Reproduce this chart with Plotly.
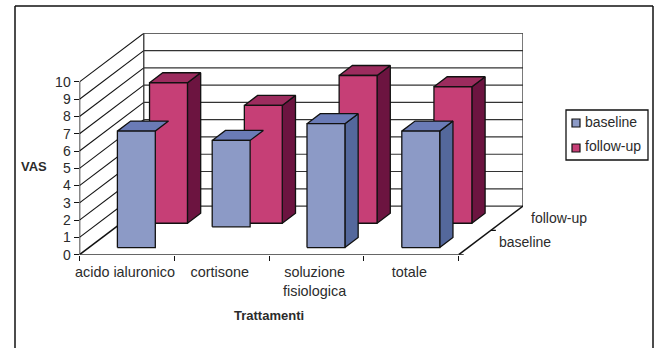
import plotly.graph_objects as go

# Chart data
categories = ["acido ialuronico", "cortisone", "soluzione<br>fisiologica", "totale"]
series_names = ["baseline", "follow-up"]
baseline_top = [6.74, 6.2, 7.17, 6.74]
baseline_bottom = [0, 1.2, 0, 0]
baseline_side_shown = [False, False, True, True]
followup_top = [8.13, 6.82, 8.55, 7.9]
followup_bottom = [0, 0, 0, 0]
value_ticks = list(range(11))

# Colours for the three visible faces of each bar
BLUE = dict(front="#8C9AC6", top="#6A7BB6", side="#54689C")
RED = dict(front="#C63F76", top="#9C2C5E", side="#6C1440")
EDGE = "#111111"
GRID = "#333333"
TEXT = "#2b2b2b"

W, H = 656, 348
FONT = "Liberation Sans, Arial, sans-serif"

# Oblique depth: a point one full depth back moves this far in axis units
DEPTH_X = 0.678
DEPTH_Y = 2.815
X_MAX = 4 + DEPTH_X
Y_MAX = 10 + DEPTH_Y

# Bar footprint within a category and within the depth of its series
BAR_HALF_W = 0.2
BAR_HALF_D = 0.103


def proj(x, y, d):
    return x + d * DEPTH_X, y + d * DEPTH_Y


def face(points, color, name):
    xs, ys = zip(*[proj(*p) for p in points + points[:1]])
    return go.Scatter(x=xs, y=ys, mode="lines", fill="toself", fillcolor=color,
                      line=dict(color=EDGE, width=1.3), hoverinfo="skip",
                      showlegend=False, name=name)


def bar_faces(i, d, low, high, colors):
    x0, x1 = i + 0.5 - BAR_HALF_W, i + 0.5 + BAR_HALF_W
    d0, d1 = d - BAR_HALF_D, d + BAR_HALF_D
    front = face([(x0, low, d0), (x1, low, d0), (x1, high, d0), (x0, high, d0)],
                 colors["front"], "front")
    top = face([(x0, high, d0), (x1, high, d0), (x1, high, d1), (x0, high, d1)],
               colors["top"], "top")
    side = face([(x1, low, d0), (x1, low, d1), (x1, high, d1), (x1, high, d0)],
                colors["side"], "side")
    return front, top, side


def lines(segments, width=1.3, color=GRID):
    xs, ys = [], []
    for a, b in segments:
        for p in (a, b):
            px_, py_ = proj(*p)
            xs.append(px_)
            ys.append(py_)
        xs.append(None)
        ys.append(None)
    return go.Scatter(x=xs, y=ys, mode="lines", line=dict(color=color, width=width),
                      hoverinfo="skip", showlegend=False)


fig = go.Figure()

# Walls: gridlines across the back and along the left side
fig.add_trace(lines([((0, v, 1), (4, v, 1)) for v in value_ticks[1:]], 1.2))
fig.add_trace(lines([((0, v, 0), (0, v, 1)) for v in value_ticks[1:]], 1.1, "#111111"))
fig.add_trace(lines([((0, 0, 1), (0, 10, 1)), ((4, 0, 1), (4, 10, 1)),
                     ((0, 0, 1), (4, 0, 1))], 1.3))
fig.add_trace(lines([((0, 0, 0), (0, 10, 0)), ((0, 0, 0), (0, 0, 1)),
                     ((4, 0, 0), (4, 0, 1))], 1.5, "#111111"))

# Bars, back series first
baseline_faces = [bar_faces(i, 0.25, baseline_bottom[i], baseline_top[i], BLUE) for i in range(4)]
followup_faces = [bar_faces(i, 0.75, followup_bottom[i], followup_top[i], RED) for i in range(4)]
for i in range(4):
    front, top, side = followup_faces[i]
    fig.add_traces([side, top, front])
for i in range(4):
    front, top, side = baseline_faces[i]
    if baseline_side_shown[i]:
        fig.add_trace(side)
    fig.add_traces([top, front])

# Front edge of the floor
fig.add_trace(lines([((0, 0, 0), (4, 0, 0))], 1.5))

SHAPE_LINE = dict(color="#111111", width=1.5)


def px(x):
    return x / W


def py(y):
    return 1 - y / H


shapes = [
    # Outer frame, open at the lower edge of the page
    dict(type="line", xref="paper", yref="paper", x0=px(15), x1=px(15), y0=py(6), y1=py(348), line=SHAPE_LINE),
    dict(type="line", xref="paper", yref="paper", x0=px(15), x1=px(653), y0=py(6), y1=py(6), line=SHAPE_LINE),
    dict(type="line", xref="paper", yref="paper", x0=px(653), x1=px(653), y0=py(6), y1=py(348), line=SHAPE_LINE),
    # Legend box and swatches
    dict(type="rect", xref="paper", yref="paper", x0=px(566), x1=px(648), y0=py(110), y1=py(160),
         line=dict(color="#111111", width=1.3), fillcolor="white"),
    dict(type="rect", xref="paper", yref="paper", x0=px(572), x1=px(580), y0=py(119), y1=py(127),
         line=dict(color="#111111", width=1.2), fillcolor=BLUE["front"]),
    dict(type="rect", xref="paper", yref="paper", x0=px(572), x1=px(580), y0=py(144), y1=py(152),
         line=dict(color="#111111", width=1.2), fillcolor=RED["front"]),
]
# Small ticks pointing right along the depth axis
for d in (0, 0.5, 1):
    sx, sy = proj(4, 0, d)
    shapes.append(dict(type="line", xref="x", yref="y", x0=sx, y0=sy, x1=sx + 5 / 94.8, y1=sy,
                       line=dict(color="#111111", width=1.2)))


def label(text, x, y, size=14, bold=False, anchor="center"):
    return dict(text=f"<b>{text}</b>" if bold else text, x=px(x), y=py(y), xref="paper", yref="paper",
                showarrow=False, xanchor=anchor, yanchor="middle",
                font=dict(family=FONT, size=size, color=TEXT))


annotations = [
    label("VAS", 34, 167, 13, True),
    label("Trattamenti", 269, 315, 13, True),
    label(series_names[0], 583, 122, anchor="left"),
    label(series_names[1], 583, 146, anchor="left"),
    # Series names beside the depth axis
    label(series_names[0], 497, 242, anchor="left"),
    label(series_names[1], 529, 218, anchor="left"),
]

fig.update_layout(
    width=W, height=H, margin=dict(l=0, r=0, t=0, b=0),
    paper_bgcolor="white", plot_bgcolor="white", showlegend=False,
    shapes=shapes, annotations=annotations,
    font=dict(family=FONT, size=14, color=TEXT),
    xaxis=dict(domain=[px(79.5), px(523)], range=[0, X_MAX], showgrid=False, zeroline=False,
               showline=False, automargin=False, tickmode="array",
               tickvals=[i + 0.48 for i in range(4)],
               ticktext=categories, ticks="", ticklen=0, ticklabelstandoff=7,
               tickfont=dict(family=FONT, size=14.4, color=TEXT),
               minor=dict(tickmode="array", tickvals=list(range(5)), ticks="outside",
                          ticklen=5, tickcolor="#111111", tickwidth=1.2, showgrid=False)),
    yaxis=dict(domain=[py(254.7), py(33.3)], range=[0, Y_MAX], showgrid=False, zeroline=False,
               showline=False, automargin=False, tickmode="array", tickvals=value_ticks,
               ticks="outside", ticklen=5, tickcolor="#111111", tickwidth=1.2),
)
fig.update_traces(cliponaxis=False)

fig.write_html("out.html")
